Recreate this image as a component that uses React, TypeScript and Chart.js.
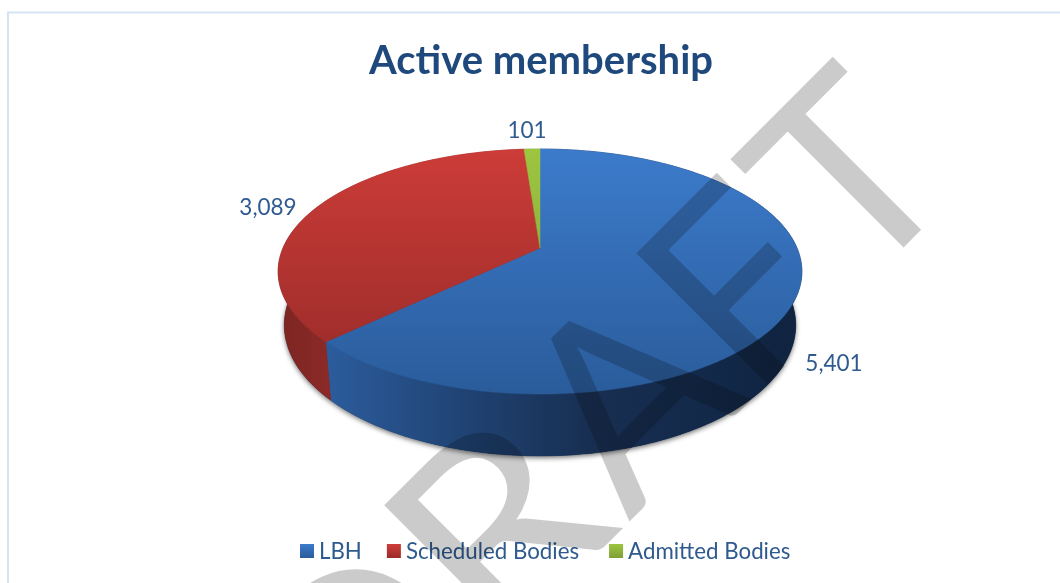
import React, { useEffect, useRef } from "react";
import { Chart, registerables } from "chart.js";

Chart.register(...registerables);

const categories = ["LBH", "Scheduled Bodies", "Admitted Bodies"];
const members = [5401, 3089, 101];
const legendColors = ["#33689f", "#b83430", "#8fb23c"];
const FONT = "Lato, Carlito, sans-serif";
const INK = "#2f5a8f";

const TOP = { cx: 540, cy: 248, a: 257, b: 118, k: 0.192 };
const BASE = { cx: 540, cy: 300, a: 251, b: 126, k: 0.192 };
const project = (m: typeof TOP, t: number) => {
  const u = Math.cos(t), v = Math.sin(t), w = 1 - m.k * v;
  return [m.cx + (m.a * u) / w, m.cy + (m.b * v) / w];
};
const topStops = [["#3c7bcb", "#2a5c9b"], ["#cc3c38", "#952a28"], ["#9dc540", "#7f9f38"]];
const swatchStops = [["#3c7bcb", "#2a5c9b"], ["#cf3d39", "#9a2b29"], ["#9dc540", "#7f9f38"]];
const sideStops = [
  [[0, "#2c5c9c"], [0.3, "#1f4272"], [0.55, "#182f52"], [0.8, "#12294a"], [1, "#10233f"]],
  [[0, "#7c2522"], [1, "#8c2a27"]],
  [[0, "#6f8a30"], [1, "#6f8a30"]],
];
const labelSpots = [[834, 364], [268, 208], [527, 131]];
const legendGaps = [25, 30, 30];
const watermark = "DRAFT";
const watermarkNudges = [-28, -27, -1, -4, 3];
const watermarkStretch = [1, 1.12, 1, 1, 1];

const pie3d = {
  id: "pie3d",
  beforeDraw(chart: any) {
    const c = chart.ctx;
    c.save();
    c.fillStyle = "#fff";
    c.fillRect(0, 0, chart.width, chart.height);
    c.strokeStyle = "#d5e4f3";
    c.lineWidth = 2;
    c.strokeRect(8, 12.5, 1062, 600);
    c.restore();
  },
  beforeDatasetsDraw(chart: any) {
    const c = chart.ctx;
    const arcs = chart.getDatasetMeta(0).data;
    const trace = (m: typeof TOP, s: number, e: number, rev = false) => {
      const n = Math.max(4, Math.ceil((e - s) * 60));
      for (let i = 0; i <= n; i++) {
        const t = rev ? e - ((e - s) * i) / n : s + ((e - s) * i) / n;
        const p = project(m, t);
        c.lineTo(p[0], p[1]);
      }
    };
    c.save();
    c.save();
    c.shadowColor = "rgba(0,0,0,0.55)";
    c.shadowBlur = 5;
    c.shadowOffsetY = 2;
    c.fillStyle = "#10233f";
    c.beginPath();
    trace(BASE, 0, Math.PI * 2);
    c.closePath();
    c.fill();
    c.restore();
    arcs.forEach((arc: any, i: number) => {
      const g = c.createLinearGradient(i === 0 ? 328 : 280, 0, i === 0 ? 800 : 330, 0);
      sideStops[i].forEach((s: any) => g.addColorStop(s[0], s[1]));
      c.fillStyle = g;
      c.strokeStyle = g;
      c.lineWidth = 0.5;
      c.beginPath();
      trace(TOP, arc.startAngle, arc.endAngle);
      trace(BASE, arc.startAngle, arc.endAngle, true);
      c.closePath();
      c.fill();
      c.stroke();
    });
    arcs.forEach((arc: any, i: number) => {
      const g = c.createLinearGradient(0, 149, 0, 394);
      g.addColorStop(0, topStops[i][0]);
      g.addColorStop(1, topStops[i][1]);
      c.fillStyle = g;
      c.strokeStyle = g;
      c.lineWidth = 0.5;
      c.beginPath();
      c.moveTo(TOP.cx, TOP.cy);
      trace(TOP, arc.startAngle, arc.endAngle);
      c.closePath();
      c.fill();
      c.stroke();
    });
    c.restore();
    return false;
  },
  afterDraw(chart: any) {
    const c = chart.ctx;
    c.save();
    c.font = `22.5px ${FONT}`;
    c.fillStyle = INK;
    c.textAlign = "center";
    c.textBaseline = "middle";
    members.forEach((v, i) => c.fillText(v.toLocaleString("en-US"), labelSpots[i][0], labelSpots[i][1]));

    c.font = `22.3px ${FONT}`;
    c.textAlign = "left";
    let x = 300;
    categories.forEach((name, i) => {
      const g = c.createLinearGradient(0, 544, 0, 558);
      g.addColorStop(0, swatchStops[i][0]);
      g.addColorStop(1, swatchStops[i][1]);
      c.fillStyle = g;
      c.fillRect(x, 544, 14, 14);
      c.fillStyle = INK;
      c.fillText(name, x + 19, 552);
      x += 19 + c.measureText(name).width + legendGaps[i];
    });
    c.restore();

    c.save();
    c.globalCompositeOperation = "multiply";
    c.translate(964, 187);
    c.rotate(-Math.PI / 4);
    c.font = `258px ${FONT}`;
    c.fillStyle = "#cbcbcb";
    c.textAlign = "left";
    c.textBaseline = "alphabetic";
    const total = c.measureText(watermark).width;
    watermark.split("").forEach((ch, i) => {
      const at = -total + c.measureText(watermark.slice(0, i + 1)).width - c.measureText(ch).width;
      c.save();
      c.translate(at + watermarkNudges[i], 0);
      c.scale(watermarkStretch[i], 1);
      c.fillText(ch, 0, 0);
      c.restore();
    });
    c.restore();
  },
};

export default function App() {
  const ref = useRef<HTMLCanvasElement>(null);
  useEffect(() => {
    document.body.style.margin = "0";
    const chart = new Chart(ref.current!, {
      type: "pie",
      data: {
        labels: categories,
        datasets: [{ data: members, backgroundColor: legendColors, borderWidth: 0 }],
      },
      options: {
        responsive: false,
        animation: false,
        layout: { padding: { left: 22, bottom: 10, top: 37 } },
        plugins: {
          title: {
            display: true,
            text: "Active membership",
            color: "#1f497d",
            font: { family: FONT, size: 40, weight: "bold" },
            padding: 0,
          },
          legend: { display: false },
          tooltip: { enabled: false },
        },
      },
      plugins: [pie3d],
    } as any);
    return () => chart.destroy();
  }, []);
  return (
    <canvas
      ref={ref}
      width={1060}
      height={583}
      style={{ display: "block", width: 1060, height: 583 }}
    />
  );
}
